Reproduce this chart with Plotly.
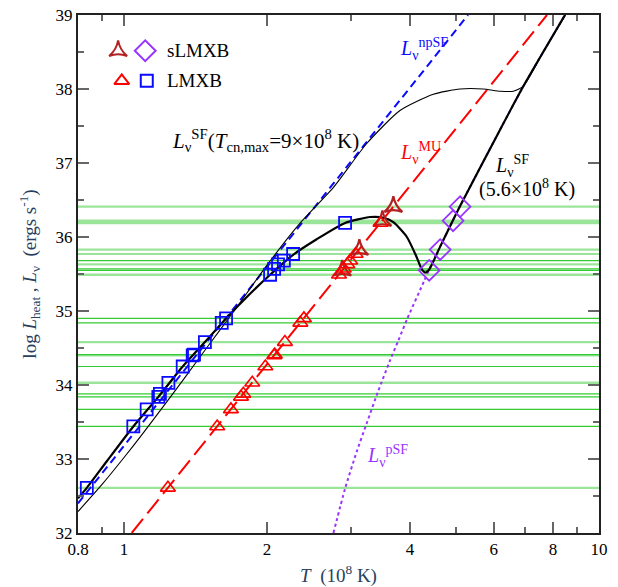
import plotly.graph_objects as go

# ---------------- data ----------------
# thin black: L_nu^SF (T_cn,max = 9e8 K)
sf9_T = [0.8, 0.9, 1.0, 1.1, 1.2, 1.35, 1.5, 1.7, 2.0, 2.35, 2.76, 3.24, 3.81, 4.48, 5.1, 5.7, 6.2, 6.6, 6.93, 7.6, 8.5]
sf9_L = [32.29, 32.66, 33.02, 33.36, 33.68, 34.12, 34.52, 34.99, 35.62, 36.19, 36.67, 37.26, 37.71, 37.93, 38.00, 38.00, 37.97, 37.97, 38.04, 38.48, 39.0]

# thick black: L_nu^SF (5.6e8 K)
sf56_T = [0.8, 0.835, 0.92, 1.046, 1.181, 1.329, 1.48, 1.64, 1.84, 2.03, 2.27, 2.545, 2.92, 3.30, 3.52, 3.69, 3.94, 4.13, 4.23, 4.31, 4.39, 4.63, 4.93, 5.10, 6.12, 6.92, 8.48]
sf56_L = [32.47, 32.61, 32.97, 33.44, 33.84, 34.25, 34.58, 34.90, 35.23, 35.49, 35.76, 35.97, 36.19, 36.27, 36.26, 36.20, 36.00, 35.73, 35.57, 35.52, 35.56, 35.87, 36.23, 36.42, 37.39, 38.03, 39.0]

# blue dashed: L_nu^npSF
npsf_T = [0.8, 5.30]
npsf_L = [32.40, 39.0]

# red long dashed: L_nu^MU
mu_T = [1.038, 7.77]
mu_L = [32.0, 39.0]

# purple dotted: L_nu^pSF
psf_T = [2.76, 2.92, 3.09, 3.25, 3.43, 3.63, 3.78, 3.95, 4.28, 4.39, 4.63, 4.93, 5.10, 6.12, 6.92, 8.48]
psf_L = [32.0, 32.60, 33.10, 33.50, 33.92, 34.33, 34.60, 34.90, 35.40, 35.56, 35.87, 36.23, 36.42, 37.39, 38.03, 39.0]

# LMXB sources
lmxb_L = [32.61, 33.44, 33.67, 33.84, 33.88, 34.03, 34.25, 34.40, 34.41, 34.58, 34.84, 34.90,
          35.49, 35.57, 35.63, 35.68, 35.77, 36.19]
lmxb_T_sf = [0.835, 1.046, 1.116, 1.181, 1.19, 1.24, 1.329, 1.395, 1.404, 1.48, 1.606, 1.64,
             2.03, 2.07, 2.11, 2.17, 2.27, 2.92]
lmxb_T_mu = [1.237, 1.571, 1.679, 1.763, 1.783, 1.862, 1.984, 2.071, 2.077, 2.181, 2.351, 2.392,
             2.835, 2.901, 2.952, 2.993, 3.073, 3.468]
lmxb_light = [True, False, False, False, False, True, False, True, False, True, False, False,
              True, False, True, False, False, True]

# sLMXB sources
slmxb_L = [35.55, 35.83, 36.22, 36.41]
slmxb_T_sf = [4.39, 4.63, 4.93, 5.10]
slmxb_T_mu = [2.88, 3.13, 3.50, 3.69]
slmxb_light = [False, True, True, True]

x_tickvals = [0.8, 1, 2, 4, 6, 8, 10]
x_ticktext = ["0.8", "1", "2", "4", "6", "8", "10"]
x_minor = [0.9, 3, 5, 7, 9]
y_tickvals = [32, 33, 34, 35, 36, 37, 38, 39]
y_minor = [32.5, 33.5, 34.5, 35.5, 36.5, 37.5, 38.5]

# ---------------- styles ----------------
FONT = "Liberation Serif"
BLUE = "#0a0aff"
RED = "#ff0000"
PURPLE = "#9933ff"
BROWN = "#b22222"
GREEN_LIGHT = "#9be59b"
GREEN = "#33cc33"

fig = go.Figure()

# horizontal green lines
for L, light in list(zip(lmxb_L, lmxb_light)) + list(zip(slmxb_L, slmxb_light)):
    fig.add_hline(y=L, line=dict(color=GREEN_LIGHT if light else GREEN, width=2.4 if light else 1.2),
                  layer="below")

# curves
fig.add_trace(go.Scatter(x=psf_T, y=psf_L, mode="lines", line=dict(color=PURPLE, width=2, dash="dot", shape="spline", smoothing=0.6)))
fig.add_trace(go.Scatter(x=npsf_T, y=npsf_L, mode="lines", line=dict(color=BLUE, width=2, dash="8px,5px")))
fig.add_trace(go.Scatter(x=mu_T, y=mu_L, mode="lines", line=dict(color=RED, width=2, dash="18px,7px")))
fig.add_trace(go.Scatter(x=sf9_T, y=sf9_L, mode="lines", line=dict(color="black", width=1.1, shape="spline", smoothing=0.6)))
fig.add_trace(go.Scatter(x=sf56_T, y=sf56_L, mode="lines", line=dict(color="black", width=2.2, shape="spline", smoothing=0.6)))

# markers
fig.add_trace(go.Scatter(x=slmxb_T_mu, y=slmxb_L, mode="markers",
                         marker=dict(symbol="star-triangle-up-open", size=13, color=BROWN, line=dict(width=2.2, color=BROWN))))
fig.add_trace(go.Scatter(x=lmxb_T_mu, y=lmxb_L, mode="markers",
                         marker=dict(symbol="triangle-up-open", size=13, color=RED, line=dict(width=1.6, color=RED))))
fig.add_trace(go.Scatter(x=lmxb_T_sf, y=lmxb_L, mode="markers",
                         marker=dict(symbol="square-open", size=12, color=BLUE, line=dict(width=1.8, color=BLUE))))
fig.add_trace(go.Scatter(x=slmxb_T_sf, y=slmxb_L, mode="markers",
                         marker=dict(symbol="diamond-open", size=16, color=PURPLE, line=dict(width=1.8, color=PURPLE))))

# legend keys on an overlay axis (0..1 box)
key_x = [0.077, 0.129, 0.084, 0.132]
key_y = [0.931, 0.931, 0.873, 0.873]
key_sym = ["star-triangle-up-open", "diamond-open", "triangle-up-open", "square-open"]
key_col = [BROWN, PURPLE, RED, BLUE]
key_size = [13, 16, 13, 12]
for kx, ky, s, c, sz in zip(key_x, key_y, key_sym, key_col, key_size):
    fig.add_trace(go.Scatter(x=[kx], y=[ky], xaxis="x2", yaxis="y2", mode="markers",
                             marker=dict(symbol=s, size=sz, color=c, line=dict(width=2, color=c))))

ann = [
    (0.167, 0.931, "sLMXB", "black", 19),
    (0.167, 0.873, "LMXB", "black", 19),
    (0.177, 0.757, "<i>L</i><sub>ν</sub><sup>SF</sup>(<i>T</i><sub>cn,max</sub>=9×10<sup>8</sup> K)", "black", 21),
    (0.614, 0.934, "<i>L</i><sub>ν</sub><sup>npSF</sup>", BLUE, 20),
    (0.614, 0.734, "<i>L</i><sub>ν</sub><sup>MU</sup>", RED, 20),
    (0.797, 0.709, "<i>L</i><sub>ν</sub><sup>SF</sup>", "black", 20),
    (0.766, 0.665, "(5.6×10<sup>8</sup> K)", "black", 20),
    (0.551, 0.148, "<i>L</i><sub>ν</sub><sup>pSF</sup>", PURPLE, 20),
]
for ax_, ay_, t, c, fs in ann:
    fig.add_annotation(x=ax_, y=ay_, xref="paper", yref="paper", text=t, showarrow=False,
                       xanchor="left", yanchor="middle", font=dict(family=FONT, size=fs, color=c))

axis_common = dict(showline=True, linecolor="#222", linewidth=2, mirror="allticks",
                   ticks="inside", ticklen=11, tickwidth=1.5, tickcolor="#666",
                   showgrid=False, zeroline=False, automargin=False, ticklabeloverflow="allow",
                   tickfont=dict(family=FONT, size=17, color="black"))

# page body has an 8px margin: figure is sized/offset to place the frame as in the reference
fig.update_layout(
    width=610, height=579,
    margin=dict(l=70, r=19, t=7, b=54, autoexpand=False),
    paper_bgcolor="white", plot_bgcolor="white",
    showlegend=False,
    xaxis=dict(type="log", range=[-0.09691, 1.0], tickvals=x_tickvals, ticktext=x_ticktext,
               minor=dict(tickvals=x_minor, ticks="inside", ticklen=6, tickcolor="#666", tickwidth=1.5),
               title=dict(text="<i>T</i>  (10<sup>8</sup> K)", font=dict(family=FONT, size=19), standoff=10),
               **axis_common),
    yaxis=dict(range=[32, 39], tickvals=y_tickvals,
               minor=dict(tickvals=y_minor, ticks="inside", ticklen=6, tickcolor="#666", tickwidth=1.5),
               title=dict(text="log <i>L</i><sub>heat</sub> , <i>L</i><sub>ν</sub>  (ergs s<sup>-1</sup>)",
                          font=dict(family=FONT, size=19), standoff=14),
               **axis_common),
    xaxis2=dict(overlaying="x", range=[0, 1], visible=False, anchor="y2", automargin=False),
    yaxis2=dict(overlaying="y", range=[0, 1], visible=False, anchor="x2", automargin=False),
)

fig.write_html("out.html")
